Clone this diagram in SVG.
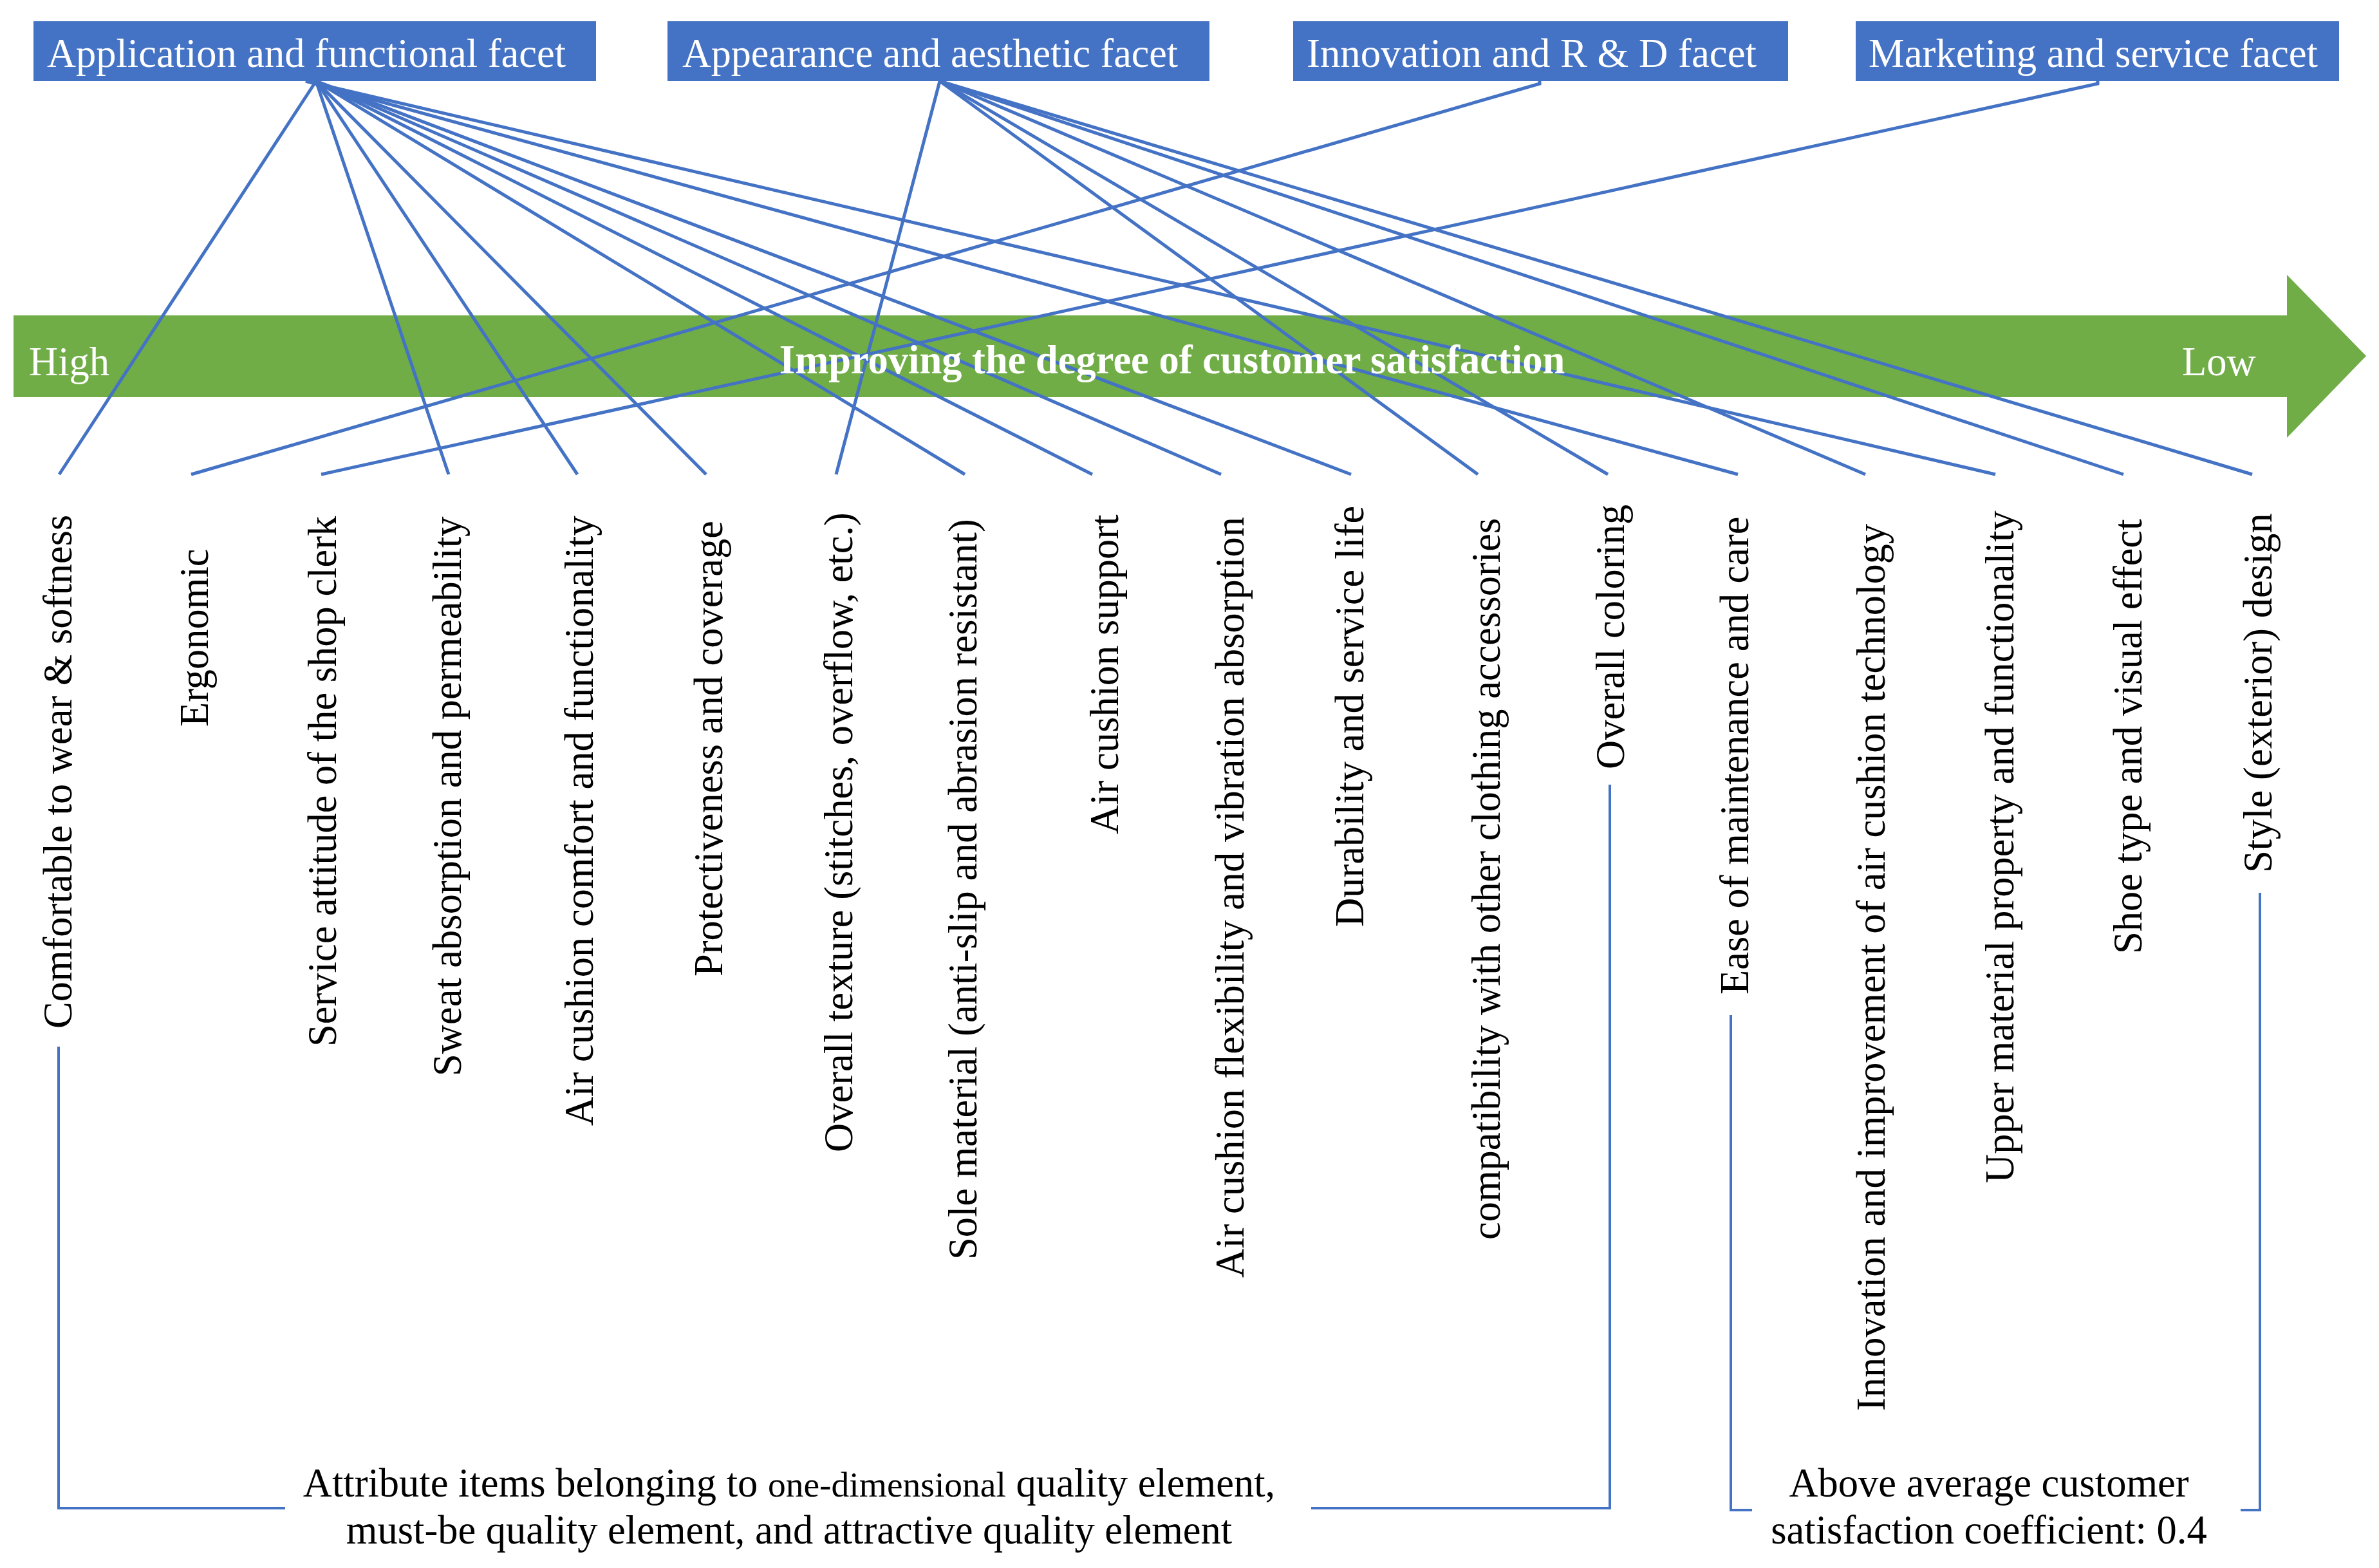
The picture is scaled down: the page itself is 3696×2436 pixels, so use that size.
<svg xmlns="http://www.w3.org/2000/svg" width="3696" height="2436" viewBox="0 0 3696 2436">
<style>
text{font-family:"Liberation Serif","Times New Roman",serif;font-size:62.5px}
.facet rect{fill:#4472C4}
.facet text{fill:#fff}
.lbl{fill:#000}
.wt{fill:#fff}
.cn line,.cn polyline{stroke:#4472C4;stroke-width:5;fill:none}
.br{stroke:#4472C4;stroke-width:4;fill:none}
</style>
<rect width="3696" height="2436" fill="#fff"/>

<g id="axis">
<polygon points="21,490 3553,490 3553,427 3676,553 3553,680 3553,617 21,617" fill="#70AD47"/>
</g>

<g id="connectors" class="cn">
<line x1="491" y1="126" x2="92" y2="737"/>
<line x1="491" y1="126" x2="697" y2="737"/>
<line x1="491" y1="126" x2="897" y2="737"/>
<line x1="491" y1="126" x2="1097" y2="737"/>
<line x1="491" y1="126" x2="1499" y2="737"/>
<line x1="491" y1="126" x2="1697" y2="737"/>
<line x1="491" y1="126" x2="1897" y2="737"/>
<line x1="491" y1="126" x2="2099" y2="737"/>
<line x1="475" y1="126" x2="2700" y2="737"/>
<line x1="475" y1="126" x2="3100" y2="737"/>
<line x1="1460" y1="126" x2="1299" y2="737"/>
<line x1="1460" y1="126" x2="2296" y2="737"/>
<line x1="1460" y1="126" x2="2498" y2="737"/>
<line x1="1460" y1="126" x2="2898" y2="737"/>
<line x1="1460" y1="126" x2="3299" y2="737"/>
<line x1="1460" y1="126" x2="3499" y2="737"/>
<polyline points="2392,126 2392,130 297,737"/>
<polyline points="3259,126 3259,130 499,737"/>
</g>

<g id="axis-labels">
<text class="wt" x="45" y="583">High</text>
<text class="wt" x="1821" y="580" text-anchor="middle" font-weight="bold">Improving the degree of customer satisfaction</text>
<text class="wt" x="3390" y="583">Low</text>
</g>

<g id="facet-application" class="facet">
<rect x="52" y="33" width="874" height="93"/>
<text x="73" y="104" textLength="806" lengthAdjust="spacingAndGlyphs">Application and functional facet</text>
</g>
<g id="facet-appearance" class="facet">
<rect x="1037" y="33" width="842" height="93"/>
<text x="1060" y="104" textLength="770" lengthAdjust="spacingAndGlyphs">Appearance and aesthetic facet</text>
</g>
<g id="facet-innovation" class="facet">
<rect x="2009" y="33" width="769" height="93"/>
<text x="2030" y="104" textLength="699" lengthAdjust="spacingAndGlyphs">Innovation and R &amp; D facet</text>
</g>
<g id="facet-marketing" class="facet">
<rect x="2883" y="33" width="751" height="93"/>
<text x="2903" y="104" textLength="698" lengthAdjust="spacingAndGlyphs">Marketing and service facet</text>
</g>

<g id="item-01"><text class="lbl" transform="translate(111,1598) rotate(-90)">Comfortable to wear &amp; softness</text></g>
<g id="item-02"><text class="lbl" transform="translate(323,1129) rotate(-90)">Ergonomic</text></g>
<g id="item-03"><text class="lbl" transform="translate(522,1626) rotate(-90)">Service attitude of the shop clerk</text></g>
<g id="item-04"><text class="lbl" transform="translate(716,1672) rotate(-90)">Sweat absorption and permeability</text></g>
<g id="item-05"><text class="lbl" transform="translate(921,1749) rotate(-90)">Air cushion comfort and functionality</text></g>
<g id="item-06"><text class="lbl" transform="translate(1122,1517) rotate(-90)">Protectiveness and coverage</text></g>
<g id="item-07"><text class="lbl" transform="translate(1324,1790) rotate(-90)">Overall texture (stitches, overflow, etc.)</text></g>
<g id="item-08"><text class="lbl" transform="translate(1517,1957) rotate(-90)">Sole material (anti-slip and abrasion resistant)</text></g>
<g id="item-09"><text class="lbl" transform="translate(1737,1296) rotate(-90)">Air cushion support</text></g>
<g id="item-10"><text class="lbl" transform="translate(1932,1985) rotate(-90)">Air cushion flexibility and vibration absorption</text></g>
<g id="item-11"><text class="lbl" transform="translate(2118,1440) rotate(-90)">Durability and service life</text></g>
<g id="item-12"><text class="lbl" transform="translate(2330,1926) rotate(-90)">compatibility with other clothing accessories</text></g>
<g id="item-13"><text class="lbl" transform="translate(2523,1195) rotate(-90)">Overall coloring</text></g>
<g id="item-14"><text class="lbl" transform="translate(2716,1545) rotate(-90)">Ease of maintenance and care</text></g>
<g id="item-15"><text class="lbl" transform="translate(2928,2192) rotate(-90)">Innovation and improvement of air cushion technology</text></g>
<g id="item-16"><text class="lbl" transform="translate(3128,1838) rotate(-90)">Upper material property and functionality</text></g>
<g id="item-17"><text class="lbl" transform="translate(3327,1482) rotate(-90)">Shoe type and visual effect</text></g>
<g id="item-18"><text class="lbl" transform="translate(3529,1356) rotate(-90)">Style (exterior) design</text></g>

<g id="group-quality">
<polyline class="br" points="91,1626 91,2343 443,2343"/>
<polyline class="br" points="2037,2343 2501,2343 2501,1219"/>
<text class="lbl" x="1226" y="2325" text-anchor="middle">Attribute items belonging to <tspan font-size="55.5">one-dimensional</tspan> quality element,</text>
<text class="lbl" x="1226" y="2398" text-anchor="middle">must-be quality element, and attractive quality element</text>
</g>

<g id="group-above-average">
<polyline class="br" points="2689,1577 2689,2346 2722,2346"/>
<polyline class="br" points="3481,2346 3511,2346 3511,1387"/>
<text class="lbl" x="3090" y="2325" text-anchor="middle">Above average customer</text>
<text class="lbl" x="3090" y="2398" text-anchor="middle">satisfaction coefficient: 0.4</text>
</g>
</svg>
